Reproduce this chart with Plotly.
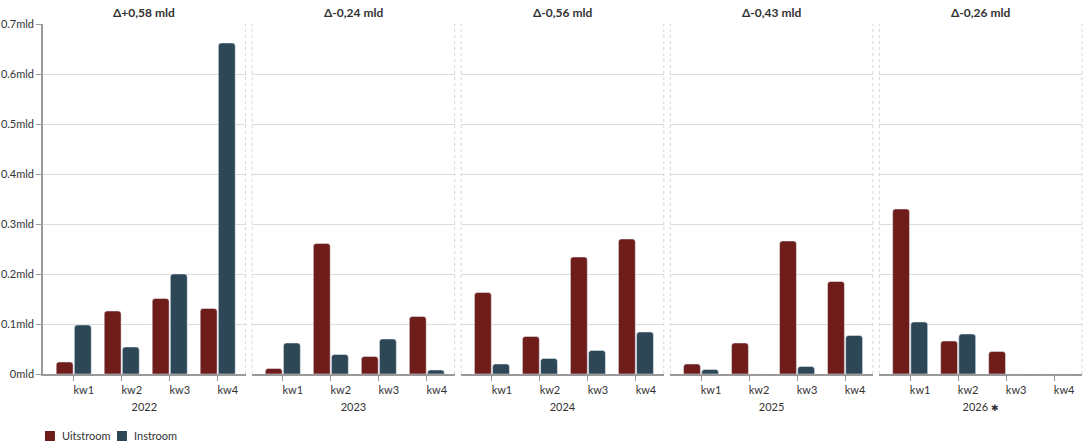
import plotly.graph_objects as go
from plotly.subplots import make_subplots

years = ["2022", "2023", "2024", "2025", "2026"]
year_labels = ["2022", "2023", "2024", "2025", "2026 <span style='font-size:9px'>✱</span>"]
quarters = ["kw1", "kw2", "kw3", "kw4"]
series_names = ["Uitstroom", "Instroom"]

# waarden in miljard
uitstroom = [
    [0.024, 0.126, 0.151, 0.131],
    [0.011, 0.261, 0.035, 0.115],
    [0.163, 0.075, 0.234, 0.270],
    [0.020, 0.062, 0.266, 0.185],
    [0.330, 0.066, 0.045, 0.0],
]
instroom = [
    [0.098, 0.054, 0.200, 0.662],
    [0.062, 0.039, 0.070, 0.008],
    [0.020, 0.031, 0.047, 0.084],
    [0.009, 0.0, 0.015, 0.077],
    [0.104, 0.080, 0.0, 0.0],
]

RED = "#6E1D1B"
BLUE = "#2E4757"
FONT = "Lato, 'Open Sans', sans-serif"


def delta_title(inn, out):
    d = sum(inn) - sum(out)
    txt = f"{d:+.2f}".replace(".", ",")
    return f"<b>Δ{txt} mld</b>"


fig = make_subplots(rows=1, cols=5, shared_yaxes=True, horizontal_spacing=0.0063,
                    subplot_titles=[delta_title(i, u) for i, u in zip(instroom, uitstroom)])

for i in range(len(years)):
    fig.add_trace(go.Bar(x=quarters, y=uitstroom[i], name=series_names[0], marker_color=RED,
                         showlegend=False), row=1, col=i + 1)
    fig.add_trace(go.Bar(x=quarters, y=instroom[i], name=series_names[1], marker_color=BLUE,
                         showlegend=False), row=1, col=i + 1)

    fig.update_xaxes(row=1, col=i + 1, type="category", range=[-0.64, 3.58], automargin=False,
                     showline=True, linecolor="#999", linewidth=1.5,
                     ticks="outside", ticklen=5, tickcolor="#999", ticklabelshift=10,
                     showgrid=False, tickfont=dict(size=11, color="#333"),
                     title=dict(text=year_labels[i], font=dict(size=11, color="#333"), standoff=8))

    xr = "x domain" if i == 0 else f"x{i + 1} domain"
    yr = "y domain" if i == 0 else f"y{i + 1} domain"
    sides = [1] if i == 0 else [0, 1]
    for s in sides:
        fig.add_shape(type="line", xref=xr, yref=yr, x0=s, x1=s, y0=0, y1=1,
                      line=dict(color="#d6d6d6", width=1, dash="3px,3px"))

fig.update_yaxes(range=[0, 0.7], dtick=0.1, gridcolor="#dcdcdc", gridwidth=1,
                 zeroline=False, showticklabels=False, automargin=False)
fig.update_yaxes(row=1, col=1, showticklabels=True, ticksuffix="mld", ticks="outside",
                 ticklen=5, tickcolor="#999", showline=True, linecolor="#999", linewidth=1.5,
                 tickfont=dict(size=11, color="#333"))

for a in fig.layout.annotations:
    a.font = dict(size=12, color="#333", family=FONT)
    a.yshift = 2

# legenda onderaan links
legend_items = [(series_names[0], RED, 0.0019), (series_names[1], BLUE, 0.0712)]
for name, col, x0 in legend_items:
    fig.add_shape(type="rect", xref="paper", yref="paper", x0=x0, x1=x0 + 0.0096,
                  y0=-0.1914, y1=-0.1629, fillcolor=col, line=dict(width=0))
    fig.add_annotation(text=name, xref="paper", yref="paper", x=x0 + 0.0145, y=-0.177,
                       xanchor="left", yanchor="middle", showarrow=False,
                       font=dict(size=11, color="#333", family=FONT))

fig.update_layout(
    width=1088, height=446,
    margin=dict(l=43, r=6, t=24, b=72, autoexpand=False),
    barmode="group", bargap=0.245, bargroupgap=0.07, barcornerradius=3,
    plot_bgcolor="white", paper_bgcolor="white",
    font=dict(family=FONT, size=11, color="#333"),
    showlegend=False,
)

fig.write_html("out.html", config={"displayModeBar": False},
               post_script="document.body.style.margin='0';")
